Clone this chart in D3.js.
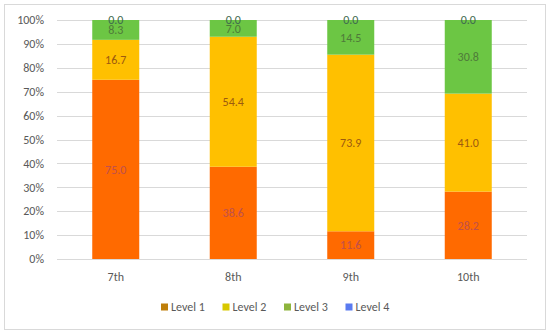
<!DOCTYPE html>
<html>
<head>
<meta charset="utf-8">
<script src="https://cdn.jsdelivr.net/npm/d3@7"></script>
<style>
  body { margin: 0; background: #fff; }
  svg text { font-family: Calibri, Carlito, "Open Sans", sans-serif; }
</style>
</head>
<body>
<svg id="canvas" width="550" height="333"></svg>
<script>
// data
const grades = ["7th", "8th", "9th", "10th"];
const levels = ["Level 1", "Level 2", "Level 3", "Level 4"];
const level1 = [75.0, 38.6, 11.6, 28.2];
const level2 = [16.7, 54.4, 73.9, 41.0];
const level3 = [8.3, 7.0, 14.5, 30.8];
const level4 = [0.0, 0.0, 0.0, 0.0];
const yTicks = [0, 10, 20, 30, 40, 50, 60, 70, 80, 90, 100];

const barColors = ["#ff6a00", "#ffc000", "#6cc644", "#5b7bf0"];
const legendColors = ["#bf7f0a", "#d8c800", "#8db43c", "#5a7bf0"];
const labelColors = ["#c0504d", "#9c5a10", "#4f7a3a", "#3f6a50"];

const width = 550;
const height = 333;
const margin = {top: 20, right: 20, bottom: 74, left: 57};

const svg = d3.select("#canvas");

svg.append("rect")
    .attr("x", 4.5).attr("y", 4.5)
    .attr("width", 541).attr("height", 325)
    .attr("fill", "#fff")
    .attr("stroke", "#d9d9d9");

const x = d3.scaleBand()
    .domain(grades)
    .range([margin.left, width - margin.right - 3])
    .paddingInner(0.6)
    .paddingOuter(0.3);

const y = d3.scaleLinear()
    .domain([0, 100])
    .range([height - margin.bottom, margin.top]);

// gridlines
svg.append("g")
    .selectAll("line")
    .data(yTicks)
    .enter()
    .append("line")
    .attr("x1", margin.left)
    .attr("x2", width - margin.right - 3)
    .attr("y1", d => Math.round(y(d)) + 0.5)
    .attr("y2", d => Math.round(y(d)) + 0.5)
    .attr("stroke", "#d9d9d9");

// y labels
svg.append("g")
    .selectAll("text")
    .data(yTicks)
    .enter()
    .append("text")
    .attr("x", 44)
    .attr("y", d => y(d))
    .attr("dy", "0.35em")
    .attr("text-anchor", "end")
    .attr("font-size", 12)
    .attr("fill", "#595959")
    .text(d => d + "%");

const rows = grades.map((g, i) => ({
    grade: g,
    "Level 1": level1[i],
    "Level 2": level2[i],
    "Level 3": level3[i],
    "Level 4": level4[i]
}));

const series = d3.stack().keys(levels)(rows);

const groups = svg.append("g")
    .selectAll("g")
    .data(series)
    .enter()
    .append("g")
    .attr("fill", (d, i) => barColors[i]);

groups.selectAll("rect")
    .data(d => d)
    .enter()
    .append("rect")
    .attr("x", d => x(d.data.grade))
    .attr("width", x.bandwidth())
    .attr("y", d => y(d[1]))
    .attr("height", d => y(d[0]) - y(d[1]));

// value labels
series.forEach((s, i) => {
    svg.append("g")
        .selectAll("text")
        .data(s)
        .enter()
        .append("text")
        .attr("x", d => x(d.data.grade) + x.bandwidth() / 2)
        .attr("y", d => y((d[0] + d[1]) / 2))
        .attr("dy", "0.35em")
        .attr("text-anchor", "middle")
        .attr("font-size", 12)
        .attr("fill", labelColors[i])
        .text(d => d.data[s.key].toFixed(1));
});

// x labels
svg.append("g")
    .selectAll("text")
    .data(grades)
    .enter()
    .append("text")
    .attr("x", d => x(d) + x.bandwidth() / 2)
    .attr("y", 277)
    .attr("dy", "0.35em")
    .attr("text-anchor", "middle")
    .attr("font-size", 12)
    .attr("fill", "#595959")
    .text(d => d);

// legend
const legend = svg.append("g")
    .selectAll("g")
    .data(levels)
    .enter()
    .append("g")
    .attr("transform", (d, i) => `translate(${161 + i * 61.5},307)`);

legend.append("rect")
    .attr("x", 0).attr("y", -3.5)
    .attr("width", 7).attr("height", 7)
    .attr("fill", (d, i) => legendColors[i]);

legend.append("text")
    .attr("x", 10)
    .attr("dy", "0.35em")
    .attr("font-size", 12)
    .attr("fill", "#595959")
    .text(d => d);
</script>
</body>
</html>
